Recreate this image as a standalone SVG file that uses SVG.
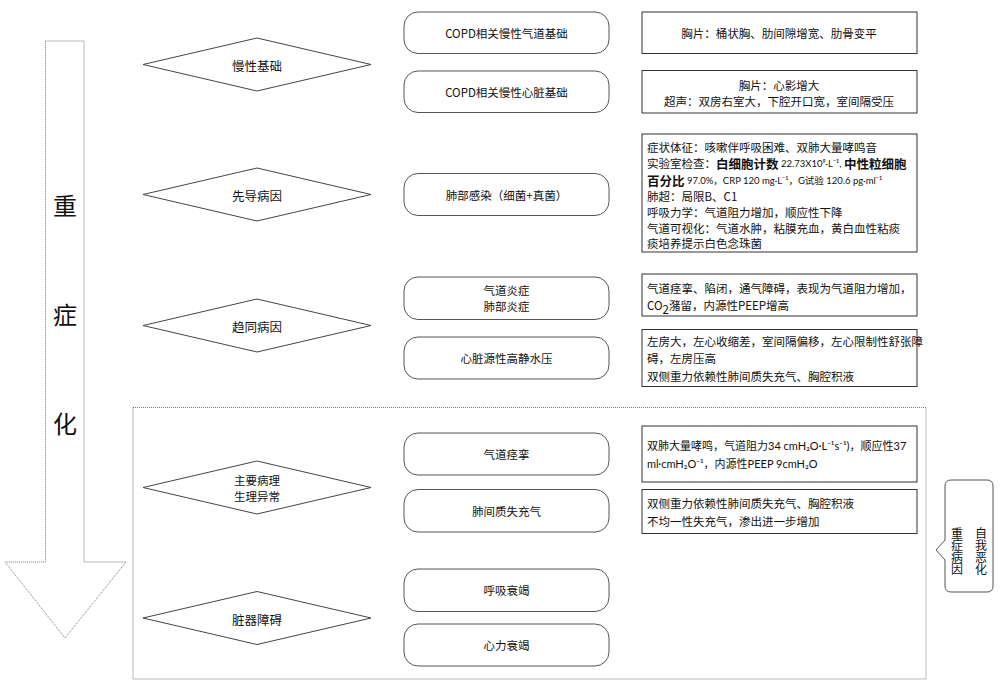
<svg xmlns="http://www.w3.org/2000/svg" width="1000" height="697" viewBox="0 0 1000 697">
<style>
text{font-family:"Noto Sans CJK SC","Noto Sans",sans-serif;fill:#111;font-size:11.5px}
.c{text-anchor:middle;dominant-baseline:central}
.l{dominant-baseline:central}
.dia{fill:#fff;stroke:#444;stroke-width:1}
.rr{fill:#fff;stroke:#555;stroke-width:1}
.tb{fill:#fff;stroke:#333;stroke-width:1}
.dot{fill:none;stroke:#777;stroke-width:1;stroke-dasharray:1 1}
.dl{font-size:12.5px}
.big{font-size:12.5px;font-weight:bold}
.sm{font-size:9.5px}
.lat{font-family:Lato,"Noto Sans CJK SC",sans-serif}
.arr{font-size:24px}
.vt{writing-mode:vertical-rl;font-size:12px}
.n11{font-size:11px}
</style>
<rect width="1000" height="697" fill="#fff"/>

<g id="trend-arrow">
<path class="dot" d="M45.5,41 H84 V562 H126 L65,638 L5,562 H45.5 Z"/>
<text class="c arr" x="65" y="204">重</text>
<text class="c arr" x="65" y="313">症</text>
<text class="c arr" x="65" y="422">化</text>
</g>

<g id="group-box">
<rect class="dot" x="133" y="407.5" width="793" height="271.5"/>
</g>

<g id="d1"><polygon class="dia" points="143,64.5 257,38 371,64.5 257,91"/><text class="c dl" x="257" y="65">慢性基础</text></g>
<g id="d2"><polygon class="dia" points="143,194.5 257,168 371,194.5 257,221"/><text class="c dl" x="257" y="195">先导病因</text></g>
<g id="d3"><polygon class="dia" points="143,325.5 257,299 371,325.5 257,352"/><text class="c dl" x="257" y="326">趋同病因</text></g>
<g id="d4"><polygon class="dia" points="143,487.5 257,461 371,487.5 257,514"/><text class="c" x="257" y="480">主要病理</text><text class="c" x="257" y="496">生理异常</text></g>
<g id="d5"><polygon class="dia" points="143,618 257,591.5 371,618 257,644.5"/><text class="c dl" x="257" y="619">脏器障碍</text></g>

<g id="r1"><rect class="rr" x="404" y="12" width="205" height="41.5" rx="14"/><text class="c" x="506.5" y="33">COPD相关慢性气道基础</text></g>
<g id="r2"><rect class="rr" x="404" y="71" width="205" height="41.5" rx="14"/><text class="c" x="506.5" y="92">COPD相关慢性心脏基础</text></g>
<g id="r3"><rect class="rr" x="404" y="173.5" width="205" height="42" rx="14"/><text class="c" x="506.5" y="195">肺部感染（细菌+真菌）</text></g>
<g id="r4"><rect class="rr" x="404" y="277" width="205" height="42.5" rx="14"/><text class="c" x="506.5" y="290">气道炎症</text><text class="c" x="506.5" y="306">肺部炎症</text></g>
<g id="r5"><rect class="rr" x="404" y="337" width="205" height="42" rx="14"/><text class="c" x="506.5" y="358">心脏源性高静水压</text></g>
<g id="r6"><rect class="rr" x="404" y="433" width="205" height="42" rx="14"/><text class="c" x="506.5" y="454">气道痉挛</text></g>
<g id="r7"><rect class="rr" x="404" y="489.5" width="205" height="42.5" rx="14"/><text class="c" x="506.5" y="511">肺间质失充气</text></g>
<g id="r8"><rect class="rr" x="404" y="569" width="205" height="42.5" rx="14"/><text class="c" x="506.5" y="590">呼吸衰竭</text></g>
<g id="r9"><rect class="rr" x="404" y="624" width="205" height="42" rx="14"/><text class="c" x="506.5" y="645">心力衰竭</text></g>

<g id="t1"><rect class="tb" x="642" y="12" width="275" height="41.5"/><text class="c" x="779" y="33">胸片：桶状胸、肋间隙增宽、肋骨变平</text></g>
<g id="t2"><rect class="tb" x="642" y="70.5" width="275" height="42.5"/><text class="c" x="779" y="85">胸片：心影增大</text><text class="c" x="779" y="101">超声：双房右室大，下腔开口宽，室间隔受压</text></g>
<g id="t3"><rect class="tb" x="642" y="134" width="275" height="118"/>
<text class="l" x="647" y="147">症状体征：咳嗽伴呼吸困难、双肺大量哮鸣音</text>
<text class="l" x="647" y="163">实验室检查：<tspan class="big">白细胞计数</tspan><tspan class="sm lat"> 22.73X10⁹·L⁻¹, </tspan><tspan class="big">中性粒细胞</tspan></text>
<text class="l" x="647" y="180"><tspan class="big">百分比</tspan><tspan class="sm lat"> 97.0%，CRP 120 mg·L⁻¹，G</tspan><tspan class="sm">试验</tspan><tspan class="sm lat"> 120.6 pg·ml⁻¹</tspan></text>
<text class="l" x="647" y="196">肺超：局限B、C1</text>
<text class="l" x="647" y="212">呼吸力学：气道阻力增加，顺应性下降</text>
<text class="l" x="647" y="228">气道可视化：气道水肿，粘膜充血，黄白血性粘痰</text>
<text class="l" x="647" y="243">痰培养提示白色念珠菌</text>
</g>
<g id="t4"><rect class="tb" x="642" y="274" width="275" height="42"/>
<text class="l" x="647" y="288">气道痉挛、陷闭，通气障碍，表现为气道阻力增加，</text>
<text class="l" x="647" y="305">CO<tspan dy="4">2</tspan><tspan dy="-4">潴留，内源性PEEP增高</tspan></text>
</g>
<g id="t5"><rect class="tb" x="642" y="329.5" width="275" height="57"/>
<text class="l" x="647" y="341">左房大，左心收缩差，室间隔偏移，左心限制性舒张障</text>
<text class="l" x="647" y="358">碍，左房压高</text>
<text class="l" x="647" y="376">双侧重力依赖性肺间质失充气、胸腔积液</text>
</g>
<g id="t6"><rect class="tb" x="642" y="426" width="275" height="56"/>
<text class="l n11" x="647" y="445">双肺大量哮鸣，气道阻力<tspan class="lat">34 cmH₂O·L⁻¹s⁻¹)</tspan>，顺应性<tspan class="lat">37</tspan></text>
<text class="l n11" x="647" y="463"><tspan class="lat">ml·cmH₂O⁻¹</tspan>，内源性<tspan class="lat">PEEP 9cmH₂O</tspan></text>
</g>
<g id="t7"><rect class="tb" x="642" y="489.5" width="275" height="44"/>
<text class="l" x="647" y="503">双侧重力依赖性肺间质失充气、胸腔积液</text>
<text class="l" x="647" y="521">不均一性失充气，渗出进一步增加</text>
</g>

<g id="side-callout">
<path class="rr" d="M951,480 H987 Q993,480 993,486 V586 Q993,592 987,592 H951 Q945,592 945,586 V560 L936,550 L945,540 V486 Q945,480 951,480 Z"/>
<text class="vt" x="981" y="527">自我恶化</text>
<text class="vt" x="957" y="527">重症病因</text>
</g>

<g id="connectors"></g>
</svg>
